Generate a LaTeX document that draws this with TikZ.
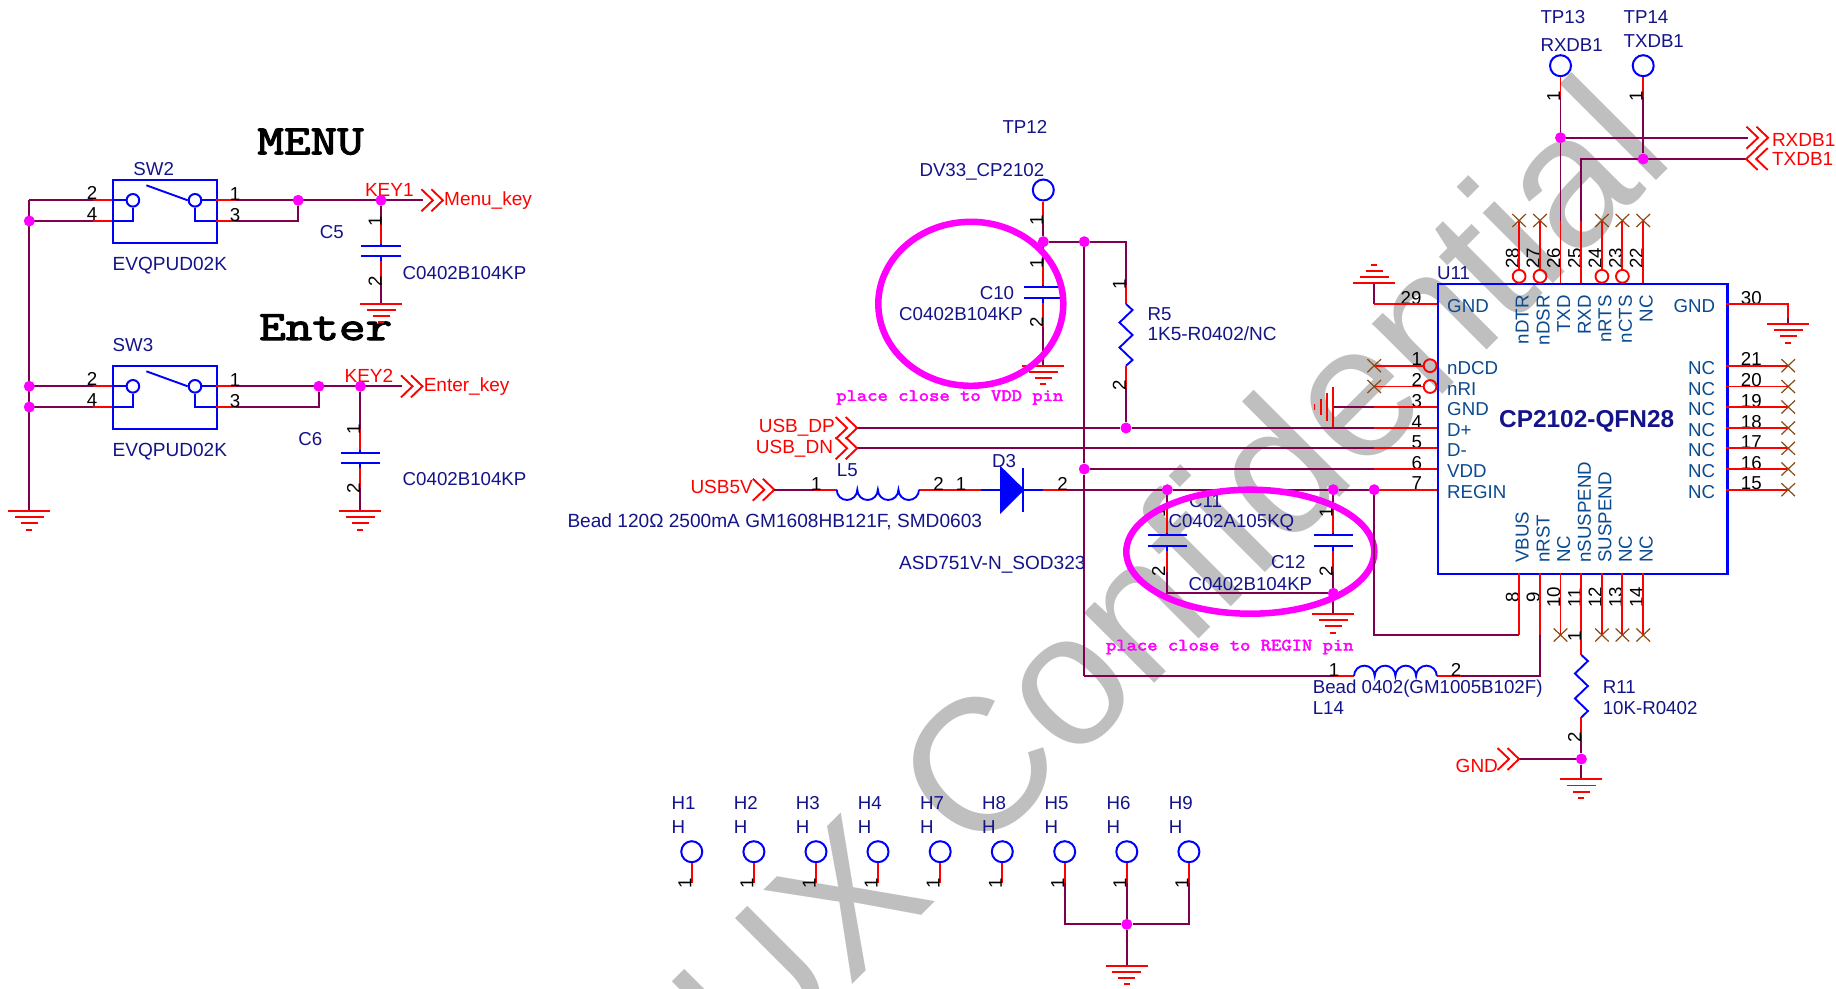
\documentclass[tikz,border=0pt]{standalone}
\usepackage{fontspec}
\setmainfont{Liberation Sans}
\newfontfamily\slabf[FakeBold=2.5]{Latin Modern Mono}
\definecolor{wirec}{HTML}{800050}
\definecolor{navyl}{HTML}{14148A}
\definecolor{pinname}{HTML}{0A4A90}
\definecolor{ncbrown}{HTML}{8B4A14}
\definecolor{magj}{RGB}{255,0,255}
\tikzset{
  wire/.style={draw=wirec,line width=1.9pt},
  pinline/.style={draw=red,line width=1.9pt},
  part/.style={draw=blue,line width=1.9pt},
  dotj/.style={circle,inner sep=0pt,minimum size=11pt},
  dotf/.style={circle,fill=magj,inner sep=0pt,minimum size=11pt},
  holec/.style={circle,draw=blue,line width=2pt,fill=white,inner sep=0pt,minimum size=#1},
  notc/.style={circle,draw=red,line width=1.9pt,inner sep=0pt,minimum size=12.8pt},
  base/.style={inner sep=0pt,text height=13pt,text depth=0pt,font=\fontsize{18.7}{19}\selectfont},
  lbl/.style={base,text=navyl,anchor=west},
  lblw/.style={lbl,font=\fontsize{19.05}{19}\selectfont},
  lblr/.style={base,text=navyl,anchor=east},
  num/.style={base,text=black},
  rnum/.style={num,rotate=90},
  net/.style={base,text=red,anchor=west,font=\fontsize{19}{19}\selectfont},
  netr/.style={net,anchor=east},
  pn/.style={base,text=pinname,anchor=west},
  pnr/.style={pn,anchor=east},
  pnu/.style={pn,rotate=90,anchor=west},
  pnd/.style={pn,rotate=90,anchor=east},
  note/.style={inner sep=0pt,anchor=west,text=magj,xscale=1.165,font=\fontsize{17.2}{18}\selectfont\slabf},
  title/.style={inner sep=0pt,anchor=west,text=black,xscale=1.23,font=\fontsize{42}{42}\selectfont\slabf},
  loop/.style={draw=magj,line width=6.5pt}
}
\newcommand{\gnddn}[1]{\draw[pinline] ([xshift=-21pt]#1) -- ([xshift=21pt]#1)
  ([shift={(-14.5pt,-6.2pt)}]#1) -- ([shift={(14.5pt,-6.2pt)}]#1)
  ([shift={(-8.5pt,-12.4pt)}]#1) -- ([shift={(8.5pt,-12.4pt)}]#1)
  ([shift={(-3pt,-18.6pt)}]#1) -- ([shift={(3pt,-18.6pt)}]#1);}
\newcommand{\gndup}[1]{\draw[pinline] ([xshift=-21pt]#1) -- ([xshift=21pt]#1)
  ([shift={(-14.5pt,6.2pt)}]#1) -- ([shift={(14.5pt,6.2pt)}]#1)
  ([shift={(-8.5pt,12.4pt)}]#1) -- ([shift={(8.5pt,12.4pt)}]#1)
  ([shift={(-3pt,18.6pt)}]#1) -- ([shift={(3pt,18.6pt)}]#1);}
\newcommand{\gndlf}[1]{\draw[pinline] ([yshift=-20.5pt]#1) -- ([yshift=20.5pt]#1)
  ([shift={(-6.2pt,-14pt)}]#1) -- ([shift={(-6.2pt,14pt)}]#1)
  ([shift={(-12.4pt,-8pt)}]#1) -- ([shift={(-12.4pt,8pt)}]#1)
  ([shift={(-18.6pt,-3pt)}]#1) -- ([shift={(-18.6pt,3pt)}]#1);}
\newcommand{\chevR}[1]{\draw[pinline] ([shift={(-11.5pt,11pt)}]#1) -- (#1) -- ([shift={(-11.5pt,-11pt)}]#1)
  ([shift={(-21.5pt,11pt)}]#1) -- ([xshift=-10pt]#1) -- ([shift={(-21.5pt,-11pt)}]#1);}
\newcommand{\chevL}[1]{\draw[pinline] ([shift={(11.5pt,11pt)}]#1) -- (#1) -- ([shift={(11.5pt,-11pt)}]#1)
  ([shift={(21.5pt,11pt)}]#1) -- ([xshift=10pt]#1) -- ([shift={(21.5pt,-11pt)}]#1);}
\newcommand{\ncx}[1]{\draw[draw=ncbrown,line width=1.2pt] ([shift={(-6.8pt,-6.5pt)}]#1) -- ([shift={(6.8pt,6.5pt)}]#1)
  ([shift={(-6.8pt,6.5pt)}]#1) -- ([shift={(6.8pt,-6.5pt)}]#1);}
\newcommand{\capv}[3]{\draw[part] (#1-19.6,#2) -- (#1+19.6,#2) (#1-19.6,#3) -- (#1+19.6,#3)
  (#1,#2-2.5) -- (#1,#2) (#1,#3) -- (#1,#3+5);}
\begin{document}
\begin{tikzpicture}[x=1pt,y=-1pt]
\useasboundingbox (0,0) rectangle (1836,988);
\fill[white] (0,0) rectangle (1836,988);
\begin{scope}
  \clip (0,0) rectangle (1836,988);
  \node[inner sep=0pt,anchor=base east,rotate=45,text=black!25,font=\fontsize{188}{188}\selectfont] (wm) at (1677.6,159.6) {UX Confidential};
\end{scope}

%% ---- titles
\node[title] (tmenu) at (257.1,141.7) {MENU};
\node[title] (tenter) at (258.9,327.3) {Enter};

%% ---- left switches
\coordinate (busT) at (29.3,200.3);
\coordinate (busB) at (29.3,511);
\node[dotj] (j4a) at (29.3,221) {};
\node[dotj] (j2b) at (29.3,386.3) {};
\node[dotj] (j4b) at (29.3,407) {};
\foreach \nm/\dy/\lab/\labx/\laby/\jx/\cx/\ex/\kx/\tipa/\cpa/\cpb/\clab/\cly/\vy/\kname/\knet/\knetx/\clx in {
  a/0/SW2/133.2/169.3/298.2/381/423/389.3/442.9/246/256/C5/231.7/272.7/KEY1/Menu\_key/444/319.6,
  b/186/SW3/112.5/345.3/318.9/360.4/401.8/368.9/422.5/452.7/462.7/C6/438.7/479.3/KEY2/Enter\_key/423.6/298.2}{
  \node[draw=blue,line width=1.9pt,inner sep=0pt,minimum width=104.2pt,minimum height=62.4pt,anchor=north west] (box\nm) at (111.8,179.3+\dy) {};
  \coordinate (l1\nm) at (111.8,200.3+\dy);
  \coordinate (l2\nm) at (111.8,221+\dy);
  \coordinate (r1\nm) at (216,200.3+\dy);
  \coordinate (r2\nm) at (216,221+\dy);
  \node[holec=12.6pt] (sl\nm) at (132.9,200.3+\dy) {};
  \node[holec=12.6pt] (sr\nm) at (195,200.3+\dy) {};
  \draw[part] (l1\nm) -- (sl\nm.west) (sr\nm.east) -- (r1\nm);
  \draw[part] (sl\nm.south) |- (l2\nm) (sr\nm.south) |- (r2\nm);
  \draw[part] (146.4,185.3+\dy) -- (sr\nm.west);
  \node[dotj] (jr\nm) at (\jx,200.3+\dy) {};
  \node[dotj] (jc\nm) at (\cx,200.3+\dy) {};
  \coordinate (end\nm) at (\ex,200.3+\dy);
  \coordinate (tip\nm) at (\tipa,200.3+\dy);
  \draw[wire] (92.9,200.3+\dy) -- (29.3,200.3+\dy);
  \draw[wire] (92.9,221+\dy) -- (29.3,221+\dy);
  \draw[pinline] (l1\nm) -- (92.9,200.3+\dy) (l2\nm) -- (92.9,221+\dy);
  \draw[wire] (235.7,200.3+\dy) -- (end\nm);
  \draw[wire] (235.7,221+\dy) -| (jr\nm);
  \draw[pinline] (r1\nm) -- (235.7,200.3+\dy) (r2\nm) -- (235.7,221+\dy);
  \chevR{tip\nm}
  \node[net] (knet\nm) at (\knetx,199+\dy) {\knet};
  \node[net,anchor=center] (klab\nm) at (\kx,190+\dy) {\kname};
  \node[num] (n2\nm) at (92,193+\dy) {2};
  \node[num] (n4\nm) at (92,214+\dy) {4};
  \node[num] (n1\nm) at (235,193.6+\dy) {1};
  \node[num] (n3\nm) at (235,214.6+\dy) {3};
  \node[lbl] (sw\nm) at (\labx,\laby) {\lab};
  \node[lblw] (ev\nm) at (112.5,264.3+\dy) {EVQPUD02K};
  \node[lbl] (cl\nm) at (\clx,\cly) {\clab};
  \node[lbl] (cv\nm) at (402.5,\vy) {C0402B104KP};
  \capv{\cx}{\cpa}{\cpb}
}
\draw[wire] (busT) -- (busB);
\gnddn{busB}
\coordinate (g5) at (381,303.7);
\coordinate (g6) at (360.4,511);
\draw[wire] (jca) -- (381,222) (381,283) -- (g5);
\draw[pinline] (381,222) -- (381,243.5) (381,261) -- (381,283);
\draw[wire] (jcb) -- (360.4,429) (360.4,488) -- (g6);
\draw[pinline] (360.4,429) -- (360.4,450) (360.4,468) -- (360.4,488);
\gnddn{g5}
\gnddn{g6}
\node[rnum] (c5n1) at (375,221.7) {1};
\node[rnum] (c5n2) at (375,281.7) {2};
\node[rnum] (c6n1) at (353.6,429) {1};
\node[rnum] (c6n2) at (353.6,488) {2};

%% ---- chip
\node[draw=blue,line width=2.2pt,inner sep=0pt,minimum width=289.5pt,minimum height=289.7pt,anchor=north west] (u11) at (1436.8,283) {};
\node[inner sep=0pt,anchor=west,text=navyl,font=\fontsize{24.4}{25}\selectfont\bfseries] (cpname) at (1499,421.7) {CP2102-QFN28};
\node[lbl] (u11l) at (1436.8,272.7) {U11};
\node[pn] (gl) at (1447,305.7) {GND};
\node[pnr] (gr) at (1715.4,305.7) {GND};

\foreach \pn/\px/\nm in {28/1519.1/nDTR,27/1540/nDSR,26/1560.5/TXD,25/1581.4/RXD,24/1601.9/nRTS,23/1622.4/nCTS,22/1643.2/NC}{
  \coordinate (p\pn) at (\px,283);
  \coordinate (q\pn) at (\px,220.5);
  \node[num,rotate=90] (np\pn) at (\px-6.8,258.3) {\pn};
  \node[pnd] (nm\pn) at (\px+3,295) {\nm};
}
\foreach \pn/\px/\nm in {8/1519.1/VBUS,9/1540/nRST,10/1560.5/NC,11/1581.4/nSUSPEND,12/1601.9/SUSPEND,13/1622.4/NC,14/1643.2/NC}{
  \coordinate (p\pn) at (\px,572.7);
  \coordinate (q\pn) at (\px,635);
  \node[num,rotate=90] (np\pn) at (\px-6.8,597.3) {\pn};
  \node[pnu] (nm\pn) at (\px+3,562.7) {\nm};
}
\foreach \pn/\py/\nm in {1/365.7/nDCD,2/386.5/nRI,3/407/GND,4/428/D+,5/448.3/D-,6/469/VDD,7/489.7/REGIN}{
  \coordinate (p\pn) at (1436.8,\py);
  \coordinate (q\pn) at (1374.2,\py);
  \node[num] (np\pn) at (1416.9,\py-6.3) {\pn};
  \node[pn] (nm\pn) at (1447,\py+2) {\nm};
}
\foreach \pn/\py in {21/365.7,20/386.5,19/407,18/428,17/448.3,16/469,15/489.7}{
  \coordinate (p\pn) at (1726.3,\py);
  \coordinate (q\pn) at (1788.2,\py);
  \node[num] (np\pn) at (1751.3,\py-6.3) {\pn};
  \node[pnr] (nm\pn) at (1715.4,\py+2) {NC};
  \draw[pinline] (p\pn) -- (q\pn);
  \ncx{q\pn}
}
\foreach \pn in {28,27,24,23}{
  \node[notc] (o\pn) at ([yshift=6.7pt]p\pn) {};
  \draw[pinline] (o\pn.north) -- (q\pn);
  \ncx{q\pn}
}
\draw[pinline] (p22) -- (q22); \ncx{q22}
\draw[pinline] (p26) -- (q26) (p25) -- (q25);
\foreach \pn in {10,12,13,14}{ \draw[pinline] (p\pn) -- (q\pn); \ncx{q\pn} }
\foreach \pn in {1,2}{
  \node[notc] (o\pn) at ([xshift=-6.7pt]p\pn) {};
  \draw[pinline] (o\pn.west) -- (q\pn);
  \ncx{q\pn}
}
\foreach \pn in {3,4,5,6,7}{ \draw[pinline] (p\pn) -- (q\pn); }
\node[num] (n29) at (1411.1,297.7) {29};
\node[num] (n30) at (1751.3,297.7) {30};
\coordinate (p29) at (1436.8,304);
\coordinate (p30) at (1726.3,304);
\coordinate (g29) at (1374.2,283.3);
\coordinate (g30) at (1788.2,324);
\draw[wire] (1374.2,304) -- (g29);
\draw[pinline] (p29) -- (1374.2,304);
\draw[wire] (1788.2,318) -- (g30);
\draw[pinline] (p30) -| (1788.2,318);
\gndup{g29}
\gnddn{g30}
\coordinate (g3) at (1333.1,407);
\draw[wire] (q3) -- (g3);
\gndlf{g3}

%% ---- TP13 / TP14
\node[holec=21pt] (tp13) at (1560.5,65.7) {};
\node[holec=21pt] (tp14) at (1643.2,65.7) {};
\node[lbl] (t13) at (1540.3,16.7) {TP13};
\node[lbl] (r13) at (1540.3,45.3) {RXDB1};
\node[lbl] (t14) at (1623.4,16.7) {TP14};
\node[lbl] (r14) at (1623.4,40.7) {TXDB1};
\coordinate (s13) at (1560.5,96.7);
\coordinate (s14) at (1643.2,96.7);
\node[dotj] (jrx) at (1560.5,137.7) {};
\node[dotj] (jtx) at (1643.2,159) {};
\draw[pinline] (tp13.south) -- (s13) (tp14.south) -- (s14);
\draw[wire] (s13) -- (q26) (s14) -- (jtx);
\coordinate (rxe) at (1747.9,137.7);
\coordinate (rxt) at (1768,137.7);
\coordinate (txe) at (1746.2,159);
\coordinate (txc) at (1581.4,159);
\draw[wire] (jrx) -- (rxe);
\draw[wire] (q25) -- (txc) -- (txe);
\chevR{rxt}
\chevL{txe}
\node[net] (nrx) at (1771.8,140) {RXDB1};
\node[net] (ntx) at (1771.8,158.7) {TXDB1};
\node[rnum] (a13) at (1553.5,96.5) {1};
\node[rnum] (a14) at (1636.2,96.5) {1};

%% ---- TP12, C10, R5
\node[lbl] (t12) at (1002.3,127.3) {TP12};
\node[lbl] (dv33) at (919.3,170) {DV33\_CP2102};
\node[holec=21pt] (tp12) at (1043.3,190) {};
\coordinate (s12) at (1043.3,220);
\node[dotj] (j12) at (1043.3,241.7) {};
\node[dotj] (jvdd) at (1084.3,241.7) {};
\coordinate (r5t) at (1126,241.7);
\coordinate (r5a) at (1126,285);
\coordinate (r5b) at (1126,304);
\coordinate (r5c) at (1126,365.7);
\coordinate (r5d) at (1126,388);
\node[dotj] (jdp) at (1126,428) {};
\draw[pinline] (tp12.south) -- (s12);
\draw[wire] (s12) -- (j12) -- (jvdd) -- (r5t) -- (r5a) (r5d) -- (jdp);
\draw[pinline] (r5a) -- (r5b) (r5c) -- (r5d);
\draw[part] (r5b) -- ++(6.5,6) -- ++(-13,12.5) -- ++(13,12.5) -- ++(-13,12.5) -- ++(13,12.5) -- (r5c);
\coordinate (c10a) at (1043.3,263);
\coordinate (c10b) at (1043.3,285);
\coordinate (c10c) at (1043.3,303);
\coordinate (c10d) at (1043.3,326.7);
\coordinate (g10) at (1043.3,365.7);
\draw[wire] (j12) -- (c10a) (c10d) -- (g10);
\draw[pinline] (c10a) -- (c10b) (c10c) -- (c10d);
\capv{1043.3}{287.3}{297.7}
\gnddn{g10}
\node[rnum] (a1) at (1036.7,220) {1};
\node[rnum] (a2) at (1036.7,263) {1};
\node[rnum] (a3) at (1036.7,322.7) {2};
\node[rnum] (a4) at (1119.3,284.3) {1};
\node[rnum] (a5) at (1119.3,385) {2};
\node[lblr] (c10l) at (1014.3,293.3) {C10};
\node[lbl] (c10v) at (899,314.3) {C0402B104KP};
\node[lbl] (r5l) at (1147.3,314.3) {R5};
\node[lblw] (r5v) at (1147.3,334.3) {1K5-R0402/NC};
\draw[loop] (970.8,303.8) ellipse [x radius=92.5pt,y radius=82pt];
\node[note] (n1) at (836,397.5) {place close to VDD pin};

%% ---- USB lines
\coordinate (dpt) at (857.1,428);
\coordinate (dnt) at (857.1,448.3);
\draw[wire] (dpt) -- (jdp) -- (q4);
\draw[wire] (dnt) -- (q5);
\chevR{dpt}
\chevR{dnt}
\node[netr] (ndp) at (835,426) {USB\_DP};
\node[netr] (ndn) at (833.2,446.7) {USB\_DN};

%% ---- VDD bus
\coordinate (busL) at (1084.3,676);
\node[dotj] (jv6) at (1084.3,469) {};
\draw[wire] (jvdd) -- (jv6) -- (busL);
\draw[wire] (jv6) -- (q6);

%% ---- USB5V, L5, D3
\coordinate (u5) at (774.3,489.7);
\coordinate (l5a) at (813.6,489.7);
\coordinate (l5b) at (836.7,489.7);
\coordinate (l5c) at (919,489.7);
\coordinate (d3a) at (981.4,489.7);
\coordinate (d3b) at (1001.1,489.7);
\coordinate (d3c) at (1023.2,489.7);
\coordinate (d3d) at (1043,489.7);
\coordinate (d3e) at (1066.8,489.7);
\node[dotj] (jc11) at (1167.3,489.7) {};
\node[dotj] (jc12) at (1333.3,489.7) {};
\node[dotj] (jreg) at (1374.2,489.7) {};
\chevR{u5}
\draw[wire] (u5) -- (l5a);
\draw[pinline] (l5a) -- (l5b) (l5c) -- (d3a) (d3d) -- (d3e);
\draw[part] (l5b) arc[start angle=180,end angle=360,radius=10.29pt] arc[start angle=180,end angle=360,radius=10.29pt] arc[start angle=180,end angle=360,radius=10.29pt] arc[start angle=180,end angle=360,radius=10.29pt];
\draw[part] (d3a) -- (d3b) (d3c) -- (d3d);
\draw[part,fill=blue] (1001.1,468) -- (d3c) -- (1001.1,511.7) -- cycle;
\draw[part] (1023.2,468) -- (1023.2,511.7);
\draw[wire] (d3e) -- (jc11) -- (jc12) -- (jreg);
\node[netr] (nu5) at (753,487.3) {USB5V};
\node[num] (b1) at (816.4,484) {1};
\node[num] (b2) at (938.5,484) {2};
\node[num] (b3) at (961,484) {1};
\node[num] (b4) at (1062.5,484) {2};
\node[lbl] (l5l) at (836.7,470) {L5};
\node[lbl] (d3l) at (992,460.7) {D3};
\node[lbl,font=\fontsize{19.1}{19}\selectfont] (beadl) at (567.3,520.7) {Bead 120Ω 2500mA GM1608HB121F, SMD0603};
\node[lblw] (asdl) at (898.9,563.3) {ASD751V-N\_SOD323};

%% ---- C11, C12
\node[dotj] (jgn) at (1333.3,593.3) {};
\coordinate (c11g) at (1167.3,593.3);
\coordinate (g12) at (1333.3,614);
\draw[wire] (jc11) -- (1167.3,510) (1167.3,571.7) -- (c11g) -- (jgn) -- (g12);
\draw[wire] (jc12) -- (1333.3,510);
\draw[pinline] (1167.3,510) -- (1167.3,533) (1167.3,551) -- (1167.3,571.7);
\draw[pinline] (1333.3,510) -- (1333.3,533) (1333.3,551) -- (1333.3,571.7);
\draw[wire] (1333.3,571.7) -- (jgn);
\capv{1167.3}{535.3}{545.7}
\capv{1333.3}{535.3}{545.7}
\gnddn{g12}
\node[rnum] (e1) at (1158.5,512.7) {1};
\node[rnum] (e2) at (1158.5,571) {2};
\node[rnum] (e3) at (1326,512) {1};
\node[rnum] (e4) at (1326,571) {2};
\node[lbl] (c11l) at (1189,501) {C11};
\node[lbl] (c11v) at (1168.3,520.7) {C0402A105KQ};
\node[lbl] (c12l) at (1271,562.3) {C12};
\node[lbl] (c12v) at (1188.3,584) {C0402B104KP};
\draw[loop] (1250.3,551.7) ellipse [x radius=124pt,y radius=62pt];
\node[note] (n2) at (1105.7,647) {place close to REGIN pin};

%% ---- pin 8, 9, L14
\coordinate (v8) at (1374.2,635);
\draw[wire] (jreg) -- (v8) -- (q8);
\draw[pinline] (p8) -- (q8);
\coordinate (c9) at (1540,676);
\coordinate (l14a) at (1334,676);
\coordinate (l14b) at (1354,676);
\coordinate (l14c) at (1436.8,676);
\coordinate (l14d) at (1460.7,676);
\draw[pinline] (p9) -- (q9);
\draw[wire] (q9) -- (c9) -- (l14d);
\draw[pinline] (l14d) -- (l14c) (l14b) -- (l14a);
\draw[wire] (l14a) -- (busL);
\draw[part] (l14b) arc[start angle=180,end angle=0,radius=10.35pt] arc[start angle=180,end angle=0,radius=10.35pt] arc[start angle=180,end angle=0,radius=10.35pt] arc[start angle=180,end angle=0,radius=10.35pt];
\node[num] (f1) at (1334,669.5) {1};
\node[num] (f2) at (1456,669.5) {2};
\node[lbl] (beadm) at (1312.6,686.7) {Bead 0402(GM1005B102F)};
\node[lbl] (l14l) at (1312.6,708) {L14};

%% ---- pin 11, R11
\coordinate (r11a) at (1581.4,655);
\coordinate (r11b) at (1581.4,717.3);
\coordinate (r11c) at (1581.4,735);
\node[dotj] (jg11) at (1581.4,759) {};
\coordinate (g11) at (1581.4,779.3);
\coordinate (gtip) at (1519,759);
\draw[pinline] (p11) -- (r11a) (r11b) -- (r11c);
\draw[part] (r11a) -- ++(6.5,6) -- ++(-13,12.5) -- ++(13,12.5) -- ++(-13,12.5) -- ++(13,12.5) -- (r11b);
\draw[wire] (r11c) -- (jg11) -- (g11);
\draw[wire] (gtip) -- (jg11);
\chevR{gtip}
\gnddn{g11}
\node[rnum] (h1) at (1574.6,636) {1};
\node[rnum] (h2) at (1574.6,737.3) {2};
\node[net] (ngnd) at (1455.5,765.7) {GND};
\node[lbl] (r11l) at (1602.6,686.7) {R11};
\node[lbl] (r11v) at (1602.6,707.7) {10K-R0402};

%% ---- mounting holes
\foreach \hn/\hx in {H1/691.75,H2/753.9,H3/816,H4/878,H7/940.2,H8/1002.3,H5/1064.7,H6/1126.8,H9/1188.9}{
  \node[holec=21pt] (hole\hn) at (\hx,851.7) {};
  \coordinate (hs\hn) at (\hx,883.3);
  \draw[pinline] (hole\hn.south) -- (hs\hn);
  \node[lbl] (hname\hn) at (\hx-20.3,802.7) {\hn};
  \node[lbl] (hval\hn) at (\hx-20.3,827.3) {H};
  \node[rnum] (hnum\hn) at (\hx-7,883) {1};
}
\node[dotj] (jh) at (1126.8,924.3) {};
\coordinate (gh) at (1126.8,965.7);
\draw[wire] (hsH5) |- (jh) (hsH9) |- (jh);
\draw[wire] (hsH6) -- (jh) -- (gh);
\gnddn{gh}

%% ---- junction dots over the wires
\foreach \d in {j4a,j2b,j4b,jra,jca,jrb,jcb,jrx,jtx,j12,jvdd,jdp,jv6,jc11,jc12,jreg,jgn,jg11,jh}{
  \node[dotf] (\d-dot) at (\d.center) {};
}
\end{tikzpicture}
\end{document}
